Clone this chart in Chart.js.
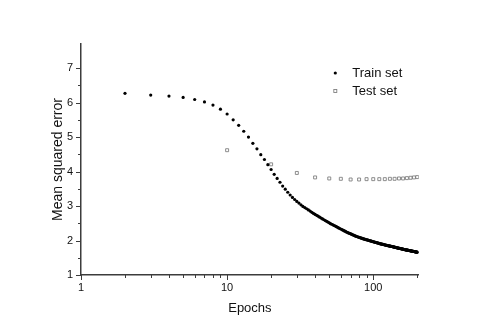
<!DOCTYPE html>
<html>
<head>
<meta charset="utf-8">
<script src="https://cdn.jsdelivr.net/npm/chart.js@4.4.1/dist/chart.umd.min.js"></script>
<style>
  html, body { margin: 0; padding: 0; background: #ffffff; }
  canvas { display: block; }
</style>
</head>
<body>
<canvas id="c" width="485" height="329" style="width:485px;height:329px"></canvas>
<script>
// ---------- data ----------
const trainEpochs = [
  2,3,4,5,6,7,8,9,10,11,12,13,14,15,16,17,18,19,20,
  21,22,23,24,25,26,27,28,29,30,31,32,33,34,35,36,37,38,39,40,
  41,42,43,44,45,46,47,48,49,50,51,52,53,54,55,56,57,58,59,60,
  61,62,63,64,65,66,67,68,69,70,71,72,73,74,75,76,77,78,79,80,
  81,82,83,84,85,86,87,88,89,90,91,92,93,94,95,96,97,98,99,100,
  101,102,103,104,105,106,107,108,109,110,111,112,113,114,115,116,117,118,119,120,
  121,122,123,124,125,126,127,128,129,130,131,132,133,134,135,136,137,138,139,140,
  141,142,143,144,145,146,147,148,149,150,151,152,153,154,155,156,157,158,159,160,
  161,162,163,164,165,166,167,168,169,170,171,172,173,174,175,176,177,178,179,180,
  181,182,183,184,185,186,187,188,189,190,191,192,193,194,195,196,197,198,199,200
];
const trainMSE = [
  6.27,6.22,6.19,6.15,6.09,6.02,5.93,5.81,5.67,5.50,5.34,5.17,5.00,4.82,4.66,4.49,4.35,4.20,4.06,
  3.92,3.80,3.69,3.58,3.49,3.40,3.32,3.25,3.19,3.135,3.085,3.035,2.990,2.956,2.922,2.888,2.853,2.819,2.785,2.758,
  2.732,2.705,2.678,2.652,2.625,2.603,2.580,2.558,2.535,2.513,2.490,2.472,2.454,2.436,2.419,2.401,2.383,2.365,2.349,2.334,
  2.318,2.303,2.287,2.271,2.256,2.240,2.229,2.217,2.206,2.194,2.183,2.171,2.160,2.148,2.137,2.125,2.117,2.109,2.101,2.093,
  2.085,2.077,2.069,2.061,2.053,2.045,2.039,2.034,2.028,2.022,2.016,2.011,2.005,1.999,1.994,1.988,1.982,1.976,1.971,1.965,
  1.960,1.955,1.950,1.945,1.940,1.935,1.930,1.925,1.920,1.915,1.910,1.905,1.901,1.897,1.893,1.890,1.886,1.882,1.878,1.874,
  1.870,1.866,1.863,1.859,1.855,1.852,1.848,1.845,1.842,1.839,1.835,1.832,1.829,1.826,1.823,1.819,1.816,1.813,1.810,1.806,
  1.803,1.800,1.797,1.793,1.790,1.787,1.785,1.782,1.779,1.776,1.774,1.771,1.768,1.765,1.763,1.760,1.757,1.754,1.751,1.749,
  1.746,1.743,1.740,1.738,1.735,1.733,1.731,1.728,1.726,1.724,1.722,1.720,1.718,1.715,1.713,1.711,1.709,1.707,1.705,1.702,
  1.700,1.698,1.696,1.694,1.692,1.689,1.687,1.685,1.683,1.681,1.679,1.677,1.675,1.673,1.671,1.669,1.667,1.665,1.663,1.661
];
const testEpochs = [10,20,30,40,50,60,70,80,90,100,110,120,130,140,150,160,170,180,190,200];
const testMSE = [4.62,4.21,3.96,3.83,3.80,3.79,3.77,3.77,3.78,3.78,3.78,3.78,3.79,3.79,3.80,3.80,3.81,3.82,3.83,3.84];
const seriesNames = ['Train set', 'Test set'];
const xTickLabels = ['1', '10', '100'];
const yTickLabels = ['1', '2', '3', '4', '5', '6', '7'];
const xTitle = 'Epochs';
const yTitle = 'Mean squared error';

// ---------- styles ----------
const FONT = "'Liberation Sans', Arial, Helvetica, sans-serif";
const AXIS = '#3c3c3c';
const TEXT = '#111111';
const TRAIN_COLOR = '#000000';
const TEST_COLOR = '#808080';

const tickMarks = {
  id: 'tickMarks',
  afterDraw(chart) {
    const ctx = chart.ctx;
    const xs = chart.scales.x, ys = chart.scales.y;
    ctx.save();
    ctx.strokeStyle = AXIS;
    ctx.lineWidth = 1;
    xs.ticks.forEach(t => {
      const v = t.value;
      const e = Math.pow(10, Math.floor(Math.log10(v) + 1e-9));
      const m = v / e;
      if (Math.abs(m - Math.round(m)) > 1e-6) return;
      const major = Math.abs(m - 1) < 1e-6;
      const px = Math.round(xs.getPixelForValue(v)) + 0.5;
      ctx.beginPath();
      ctx.moveTo(px, xs.top);
      ctx.lineTo(px, xs.top + (major ? 5 : 3));
      ctx.stroke();
    });
    ys.ticks.forEach(t => {
      const v = t.value;
      if (Math.abs(v * 2 - Math.round(v * 2)) > 1e-6) return;
      const major = Math.abs(v - Math.round(v)) < 1e-6;
      const py = Math.round(ys.getPixelForValue(v)) + 0.5;
      ctx.beginPath();
      ctx.moveTo(ys.right, py);
      ctx.lineTo(ys.right - (major ? 5 : 3), py);
      ctx.stroke();
    });
    ctx.restore();
  }
};

const insideLegend = {
  id: 'insideLegend',
  afterDraw(chart) {
    const ctx = chart.ctx;
    const a = chart.chartArea;
    const mx = a.right - 83.5, tx = a.right - 66.5;
    const rows = [a.top + 29, a.top + 47];
    ctx.save();
    ctx.font = '13px ' + FONT;
    ctx.textBaseline = 'middle';
    ctx.textAlign = 'left';
    chart.data.datasets.forEach((ds, i) => {
      const y = rows[i];
      if (ds.pointStyle === 'circle') {
        ctx.beginPath();
        ctx.fillStyle = ds.backgroundColor;
        ctx.arc(mx, y, ds.pointRadius, 0, Math.PI * 2);
        ctx.fill();
      } else {
        const s = ds.pointRadius * Math.SQRT1_2;
        ctx.strokeStyle = ds.borderColor;
        ctx.lineWidth = ds.borderWidth;
        ctx.strokeRect(mx - s, y - s, 2 * s, 2 * s);
      }
      ctx.fillStyle = TEXT;
      ctx.fillText(ds.label, tx, y);
    });
    ctx.restore();
  }
};

new Chart(document.getElementById('c'), {
  type: 'scatter',
  data: {
    datasets: [
      {
        label: seriesNames[0],
        data: trainEpochs.map((e, i) => ({ x: e, y: trainMSE[i] })),
        pointStyle: 'circle',
        pointRadius: 1.6,
        borderWidth: 0,
        backgroundColor: TRAIN_COLOR,
        borderColor: TRAIN_COLOR
      },
      {
        label: seriesNames[1],
        data: testEpochs.map((e, i) => ({ x: e, y: testMSE[i] })),
        pointStyle: 'rect',
        pointRadius: 2.1,
        borderWidth: 0.9,
        backgroundColor: 'rgba(255,255,255,0)',
        borderColor: TEST_COLOR
      }
    ]
  },
  options: {
    responsive: false,
    animation: false,
    devicePixelRatio: 1,
    layout: { padding: { left: 40, right: 66.2, top: 44, bottom: 0 } },
    plugins: { legend: { display: false }, tooltip: { enabled: false } },
    scales: {
      x: {
        type: 'logarithmic',
        min: 1,
        max: 205,
        afterFit(s) { s.height = 54; },
        grid: { display: false, drawTicks: false, tickLength: 0 },
        border: { display: true, color: AXIS, width: 1.5 },
        ticks: {
          autoSkip: false,
          maxRotation: 0,
          padding: 6,
          color: TEXT,
          font: { family: FONT, size: 11 },
          callback(v) { const s = String(v); return xTickLabels.includes(s) ? s : ''; }
        },
        title: {
          display: true,
          text: xTitle,
          color: TEXT,
          font: { family: FONT, size: 13 },
          padding: { top: 0, bottom: 13 }
        }
      },
      y: {
        min: 1,
        max: 7.7,
        afterFit(s) { s.width = 41; },
        grid: { display: false, drawTicks: false, tickLength: 0 },
        border: { display: true, color: AXIS, width: 1.5 },
        ticks: {
          stepSize: 0.5,
          autoSkip: false,
          padding: 8,
          color: TEXT,
          font: { family: FONT, size: 11 },
          callback(v) { const s = String(v); return yTickLabels.includes(s) ? s : ''; }
        },
        title: {
          display: true,
          text: yTitle,
          color: TEXT,
          font: { family: FONT, size: 14 },
          padding: { top: 9.6, bottom: 0 }
        }
      }
    }
  },
  plugins: [tickMarks, insideLegend]
});
</script>
</body>
</html>
